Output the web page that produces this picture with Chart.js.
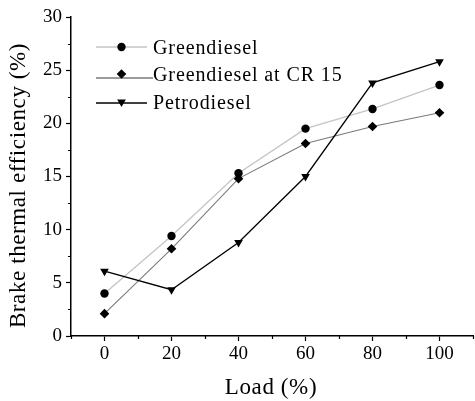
<!DOCTYPE html>
<html><head><meta charset="utf-8">
<script src="https://cdn.jsdelivr.net/npm/chart.js@4/dist/chart.umd.min.js"></script>
<style>html,body{margin:0;padding:0;overflow:hidden;background:#fff}#wrap{width:478px;height:401px}</style>
</head><body><div id="wrap"><canvas id="c" width="478" height="401"></canvas></div>
<script>
const loads = [0, 20, 40, 60, 80, 100];
const greendiesel = [4.0, 9.4, 15.3, 19.5, 21.35, 23.6];
const greendieselCR15 = [2.1, 8.2, 14.8, 18.1, 19.7, 21.0];
const petrodiesel = [6.1, 4.35, 8.8, 15.0, 23.8, 25.8];
const seriesNames = ['Greendiesel', 'Greendiesel at CR 15', 'Petrodiesel'];
const xTickValues = [0, 20, 40, 60, 80, 100];
const xMinorValues = [-10, 10, 30, 50, 70, 90, 110];
const yTickValues = [0, 5, 10, 15, 20, 25, 30];
const yMinorValues = [2.5, 7.5, 12.5, 17.5, 22.5, 27.5];
const xTitle = 'Load (%)';
const yTitle = 'Brake thermal efficiency (%)';

const toPts = arr => loads.map((x, i) => ({x: x, y: arr[i]}));
const FONT = "'Liberation Serif', 'Times New Roman', serif";

const styles = [
  {line: '#c4c4c4', lw: 1.3, ps: 'circle', r: 4.2, rot: 0},
  {line: '#7a7a7a', lw: 1.1, ps: 'rectRot', r: 4.8, rot: 0},
  {line: '#000000', lw: 1.3, ps: 'triangle', r: 5, rot: 180}
];
const seriesData = [greendiesel, greendieselCR15, petrodiesel];

const datasets = seriesData.map((d, i) => ({
  label: seriesNames[i],
  data: toPts(d),
  borderColor: styles[i].line,
  borderWidth: styles[i].lw,
  pointStyle: styles[i].ps,
  pointRadius: styles[i].r,
  pointRotation: styles[i].rot,
  pointBackgroundColor: '#000',
  pointBorderColor: '#000',
  pointBorderWidth: 0,
  pointHoverRadius: styles[i].r,
  tension: 0,
  fill: false,
  order: 3 - i
}));

const decor = {
  id: 'decor',
  afterDraw(chart) {
    const ctx = chart.ctx;
    const xs = chart.scales.x, ys = chart.scales.y, ca = chart.chartArea;
    ctx.save();
    ctx.strokeStyle = '#000';
    ctx.lineWidth = 1.2;
    ctx.beginPath();
    xMinorValues.forEach(v => {
      const px = Math.round(xs.getPixelForValue(v)) + 0.5;
      ctx.moveTo(px, ca.bottom); ctx.lineTo(px, ca.bottom + 3);
    });
    yMinorValues.forEach(v => {
      const py = Math.round(ys.getPixelForValue(v)) + 0.5;
      ctx.moveTo(ca.left, py); ctx.lineTo(ca.left - 3, py);
    });
    ctx.stroke();

    // axis titles
    ctx.fillStyle = '#000';
    try { ctx.letterSpacing = '0.6px'; } catch (e) {}
    ctx.font = '23px ' + FONT;
    ctx.textAlign = 'center';
    ctx.textBaseline = 'middle';
    ctx.fillText(xTitle, (ca.left + ca.right) / 2 - 1, 388);
    ctx.save();
    ctx.translate(19, (ca.top + ca.bottom) / 2 + 9);
    ctx.rotate(-Math.PI / 2);
    ctx.fillText(yTitle, 0, 0);
    ctx.restore();

    // legend
    const rows = [
      {ym: 47, yl: 47, x2: 147, base: 54},
      {ym: 74, yl: 78, x2: 153, base: 80.5},
      {ym: 102, yl: 103, x2: 147, base: 108.5}
    ];
    ctx.font = '20px ' + FONT;
    try { ctx.letterSpacing = '0.9px'; } catch (e) {}
    ctx.textAlign = 'left';
    ctx.textBaseline = 'alphabetic';
    rows.forEach((r, i) => {
      const st = styles[i];
      ctx.strokeStyle = st.line;
      ctx.lineWidth = st.lw + 0.2;
      ctx.beginPath();
      ctx.moveTo(96, r.yl); ctx.lineTo(r.x2, r.yl);
      ctx.stroke();
      ctx.fillStyle = '#000';
      Chart.helpers.drawPoint(ctx, {pointStyle: st.ps, radius: st.r, rotation: st.rot, borderWidth: 0}, 121.5, r.ym);
      ctx.fillStyle = '#000';
      ctx.fillText(seriesNames[i], 153, r.base);
    });
    ctx.restore();
  }
};

new Chart(document.getElementById('c'), {
  type: 'line',
  data: {datasets: datasets},
  plugins: [decor],
  options: {
    responsive: false,
    animation: false,
    devicePixelRatio: 1,
    layout: {padding: {top: 17, right: 1, left: 0, bottom: 0}},
    plugins: {legend: {display: false}, tooltip: {enabled: false}},
    scales: {
      x: {
        type: 'linear', min: -10, max: 110,
        afterBuildTicks: s => { s.ticks = xTickValues.map(v => ({value: v})); },
        afterFit: s => { s.height = 65; },
        grid: {display: true, drawOnChartArea: false, drawTicks: true, tickLength: 5, tickColor: '#000', tickWidth: 1.2},
        border: {display: true, color: '#000', width: 1.5},
        ticks: {color: '#000', font: {family: FONT, size: 19}, padding: 2, maxRotation: 0, autoSkip: false, callback: v => String(v)}
      },
      y: {
        type: 'linear', min: 0, max: 30,
        afterBuildTicks: s => { s.ticks = yTickValues.map(v => ({value: v})); },
        afterFit: s => { s.width = 71; },
        grid: {display: true, drawOnChartArea: false, drawTicks: true, tickLength: 5, tickColor: '#000', tickWidth: 1.2},
        border: {display: true, color: '#000', width: 1.5},
        ticks: {color: '#000', font: {family: FONT, size: 19}, padding: 4, autoSkip: false, callback: v => String(v)}
      }
    }
  }
});
</script></body></html>
